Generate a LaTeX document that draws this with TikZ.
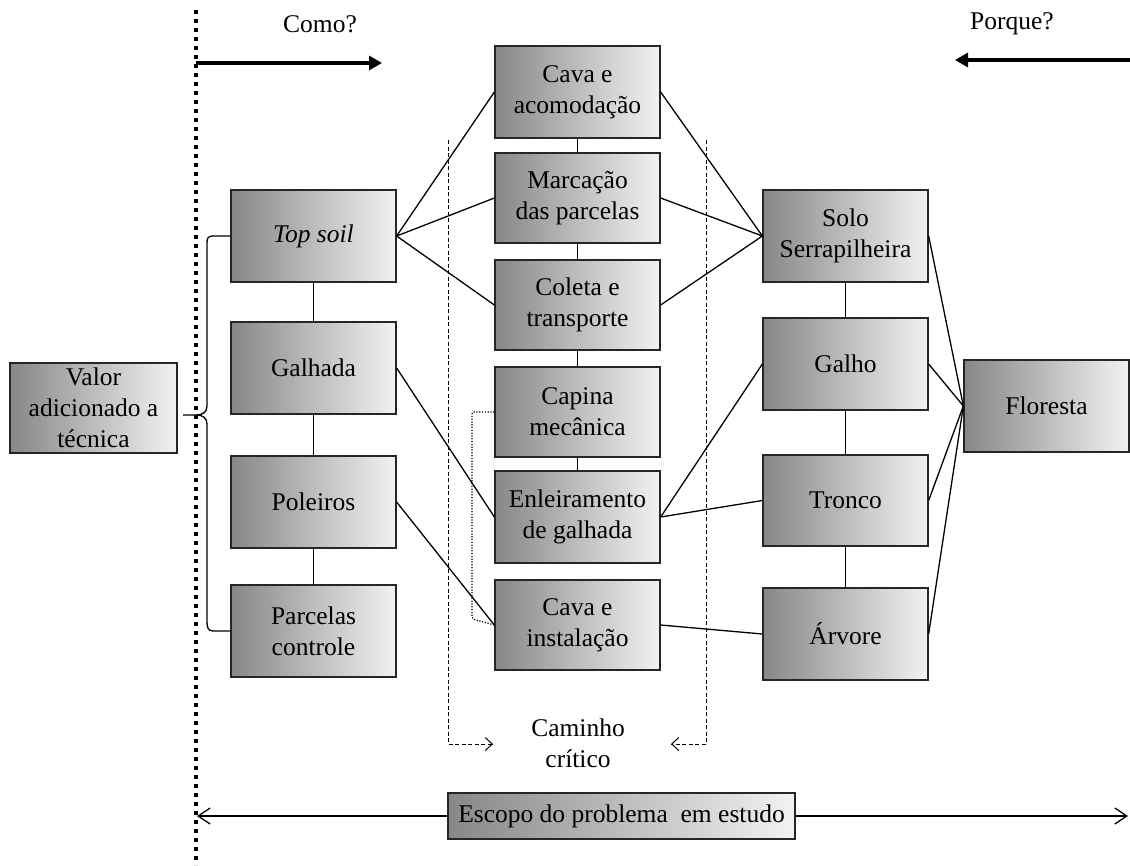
\documentclass[tikz,border=0pt]{standalone}
\usepackage{fontspec}
\setmainfont{Liberation Serif}
\usetikzlibrary{arrows.meta,calc}
\definecolor{boxdark}{gray}{0.53}
\definecolor{boxlight}{gray}{0.95}
\tikzset{
  box/.style={draw=black!85, line width=1.3pt, minimum width=165pt, minimum height=92pt,
    inner sep=2pt, align=center, left color=boxdark, right color=boxlight,
    font=\fontsize{25.5}{31}\selectfont},
  link/.style={line width=1.3pt},
  label/.style={align=center, font=\fontsize{25.5}{31}\selectfont},
  guide/.style={line width=1pt, dash pattern=on 4pt off 2.5pt},
  guidetip/.style={-{Straight Barb[length=7pt,width=13pt,line width=1pt]}},
  bigarrow/.style={line width=3.2pt, -{Triangle[length=13pt,width=14pt]}},
  scopearrow/.style={line width=1.3pt, -{Straight Barb[length=12pt,width=16pt,line width=1.3pt]}},
}
\begin{document}
\begin{tikzpicture}[x=1pt,y=-1pt]
\useasboundingbox (0,0) rectangle (1130,865);

% boundary of the analysis
\coordinate (limtop) at (196,10);
\coordinate (limbot) at (196,865);
\draw[line width=4pt, dash pattern=on 3.5pt off 5.5pt] (limtop) -- (limbot);

% direction of reading
\node[label] (como) at (320,24) {Como?};
\node[label] (porque) at (1012,24) {Porque?};
\coordinate (comoA) at (196,63);
\coordinate (comoB) at (382,63);
\draw[bigarrow] (comoA) -- (comoB);
\coordinate (porqueA) at (1131,60);
\coordinate (porqueB) at (955,60);
\draw[bigarrow] (porqueA) -- (porqueB);

% value added
\node[box, minimum width=167pt, minimum height=90pt] (valor) at (93.5,408) {Valor\\adicionado a\\técnica};

% techniques
\node[box] (topsoil)  at (313.5,236) {\itshape Top soil};
\node[box] (galhada)  at (313.5,368) {Galhada};
\node[box] (poleiros) at (313.5,502) {Poleiros};
\node[box] (parcelas) at (313.5,631) {Parcelas\\controle};

% operations
\node[box] (cava1)  at (577.5,92)  {Cava e\\acomodação};
\node[box, minimum height=90pt] (marc)   at (577.5,198) {Marcação\\das parcelas};
\node[box, minimum height=90pt] (coleta) at (577.5,305) {Coleta e\\transporte};
\node[box, minimum height=90pt] (capina) at (577.5,412) {Capina\\mecânica};
\node[box] (enlei)  at (577.5,517) {Enleiramento\\de galhada};
\node[box, minimum height=90pt] (cava2)  at (577.5,625) {Cava e\\instalação};

% forest components
\node[box] (solo)   at (845.5,236) {Solo\\Serrapilheira};
\node[box] (galho)  at (845.5,364) {Galho};
\node[box, minimum height=91pt] (tronco) at (845.5,500.5) {Tronco};
\node[box] (arvore) at (845.5,634) {Árvore};
\node[box] (floresta) at (1046.5,406) {Floresta};

% scope of the problem
\node[box, minimum width=347pt, minimum height=46pt] (escopo) at (621.5,816) {Escopo do problema\ \ em estudo};

% vertical chains
\draw[link] (topsoil) -- (galhada);
\draw[link] (galhada) -- (poleiros);
\draw[link] (poleiros) -- (parcelas);
\draw[link] (cava1) -- (marc);
\draw[link] (marc) -- (coleta);
\draw[link] (coleta) -- (capina);
\draw[link] (capina) -- (enlei);
\draw[link] (solo) -- (galho);
\draw[link] (galho) -- (tronco);
\draw[link] (tronco) -- (arvore);

% technique to operation
\draw[link] (topsoil.east) -- (cava1.west);
\draw[link] (topsoil.east) -- (marc.west);
\draw[link] (topsoil.east) -- (coleta.west);
\draw[link] (galhada.east) -- (enlei.west);
\draw[link] (poleiros.east) -- (cava2.west);

% operation to component
\draw[link] (solo.west) -- (cava1.east);
\draw[link] (solo.west) -- (marc.east);
\draw[link] (solo.west) -- (coleta.east);
\draw[link] (enlei.east) -- (galho.west);
\draw[link] (enlei.east) -- (tronco.west);
\draw[link] (cava2.east) -- (arvore.west);

% component to forest
\draw[link] (floresta.west) -- (solo.east);
\draw[link] (floresta.west) -- (galho.east);
\draw[link] (floresta.west) -- (tronco.east);
\draw[link] (floresta.west) -- (arvore.east);

% dotted bracket capina / cava
\draw[line width=1.2pt, dash pattern=on 1.2pt off 1.6pt, rounded corners=2pt]
  (capina.west) -| (472,619) -- (cava2.west);

% brace gathering the techniques
\coordinate (bracetip) at (183,415);
\draw[line width=1.3pt]
  (topsoil.west) -- (213,236) .. controls (208,236) and (207,238) .. (207,243)
  -- (207,406) .. controls (207,412) and (203,415) .. (196,415) -- (bracetip)
  (196,415) .. controls (203,415) and (207,418) .. (207,424)
  -- (207,622) .. controls (207,627) and (208,631) .. (213,631) -- (parcelas.west);

% critical path
\node[label] (caminho) at (578,743) {Caminho\\crítico};
\coordinate (dlt) at (448,140);
\coordinate (dlb) at (448,744);
\coordinate (dla) at (493,744);
\coordinate (drt) at (706,140);
\coordinate (drb) at (706,744);
\coordinate (dra) at (671,744);
\draw[guide] (dlt) -- (dlb) -- (dla);
\draw[guide] (drt) -- (drb) -- (dra);
\draw[guidetip] ($(dla)+(-1,0)$) -- (dla);
\draw[guidetip] ($(dra)+(1,0)$) -- (dra);

% scope extent
\coordinate (scopeL) at (197,816);
\coordinate (scopeR) at (1128,816);
\draw[scopearrow] (escopo.west) -- (scopeL);
\draw[scopearrow] (escopo.east) -- (scopeR);
\end{tikzpicture}
\end{document}
